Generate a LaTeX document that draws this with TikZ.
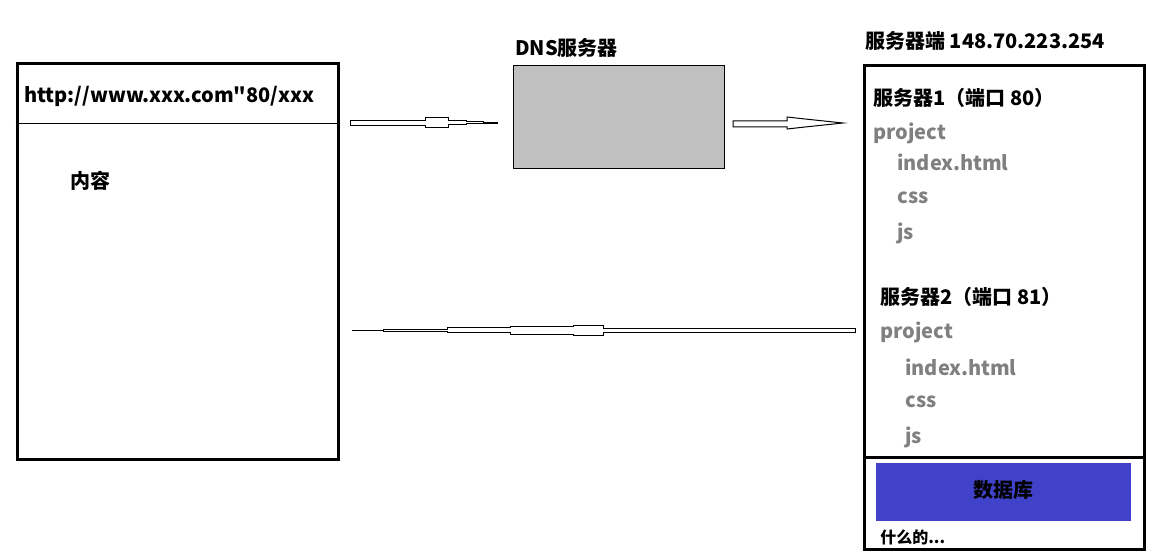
\documentclass[tikz,border=0pt]{standalone}
\usepackage{fontspec}
\setmainfont[Ligatures=TeXOff]{Noto Sans CJK SC}
\usetikzlibrary{fit,positioning}
\definecolor{DnsGray}{HTML}{C0C0C0}
\definecolor{DbBlue}{HTML}{4043C9}
\definecolor{FileGray}{HTML}{808080}

\begin{document}
\begin{tikzpicture}[x=0.75pt,y=-0.75pt,
    panel/.style={draw,line width=2.25pt,inner sep=0pt},
    heading/.style={anchor=west,inner sep=0pt,font=\bfseries\fontsize{15}{18}\selectfont},
    entry/.style={heading,text=FileGray},
    pipe/.style={draw,fill=white,line width=0.75pt}
  ]
    \useasboundingbox (0,0) rectangle (1162,555);

    % browser
    \node[panel,fit={(17,64) (338,459)}] (browser) {};
    \coordinate (urlbar) at (17,124);
    \draw[line width=0.75pt] (browser.west |- urlbar) -- (browser.east |- urlbar);
    \node[heading] (url) at (24,96) {http://www.xxx.com"80/xxx};
    \node[heading] (content) at (70,181) {内容};

    % dns
    \node[draw,fill=DnsGray,line width=0.75pt,inner sep=0pt,fit={(513,66) (724,169)}] (dns) {};
    \node[heading] (dnstitle) at (515,48) {DNS服务器};

    % server side
    \node[heading] (servertitle) at (865,41) {服务器端 148.70.223.254};
    \node[panel,fit={(864,66) (1144,457)}] (server) {};
    \node[panel,fit={(864,457) (1144,549)}] (dbarea) {};
    \node[fill=DbBlue,inner sep=0pt,fit={(876,463) (1131,521)}] (db) {};
    \node[heading,anchor=center] (dbname) at ([yshift=1.5pt]db.center) {数据库};
    \node[heading,font=\bfseries\fontsize{12}{14}\selectfont] (misc) at (880,537) {什么的...};

    \node[heading] (srv1) at (873,98) {服务器1（端口 80）};
    \node[entry] (proj1) at (873,133) {project};
    \node[entry] (index1) at (897,162) {index.html};
    \node[entry] (css1) at (897,198) {css};
    \node[entry] (js1) at (897,233) {js};

    \node[heading] (srv2) at (880,297) {服务器2（端口 81）};
    \node[entry] (proj2) at (880,332) {project};
    \node[entry] (index2) at (905,367) {index.html};
    \node[entry] (css2) at (905,402) {css};
    \node[entry] (js2) at (905,437) {js};

    % arrows
    \coordinate (ask) at (350,123);
    \coordinate (askend) at (498,123);
    \draw[pipe] (ask) ++(0,-2.5) -- ++(75,0) -- ++(0,-2.5) -- ++(23,0) -- ++(0,3)
      -- ++(18,0) -- ++(0,1) -- ++(17,0) -- ++(0,2) -- ++(-17,0) -- ++(0,1)
      -- ++(-18,0) -- ++(0,2.5) -- ++(-23,0) -- ++(0,-2) -- ++(-75,0) -- cycle;
    \draw[line width=1.5pt] (askend) ++(-15,0) -- (askend);

    \coordinate (fwd) at (733,124);
    \coordinate (fwdend) at (843,123);
    \draw[pipe] (fwd) ++(0,-3) -- ++(54,0) -- ++(0,-4) -- ++(18,2) -- (fwdend)
      -- ++(-38,4) -- ++(-18,2) -- ++(0,-2) -- ++(-54,0) -- cycle;

    \coordinate (reply) at (855,330.5);
    \coordinate (replyend) at (352,330.5);
    \draw[pipe] (reply) ++(0,-2) -- ++(-252,0) -- ++(0,-3) -- ++(-30,0) -- ++(0,1)
      -- ++(-63,0) -- ++(0,1.5) -- ++(-63,0) -- ++(0,1.5) -- ++(-64,0) -- ++(0,2)
      -- ++(64,0) -- ++(0,1.5) -- ++(63,0) -- ++(0,1.5) -- ++(63,0) -- ++(0,1)
      -- ++(30,0) -- ++(0,-3) -- ++(252,0) -- cycle;
    \draw[line width=0.75pt] (replyend) -- ++(31,0);
  \end{tikzpicture}
\end{document}
